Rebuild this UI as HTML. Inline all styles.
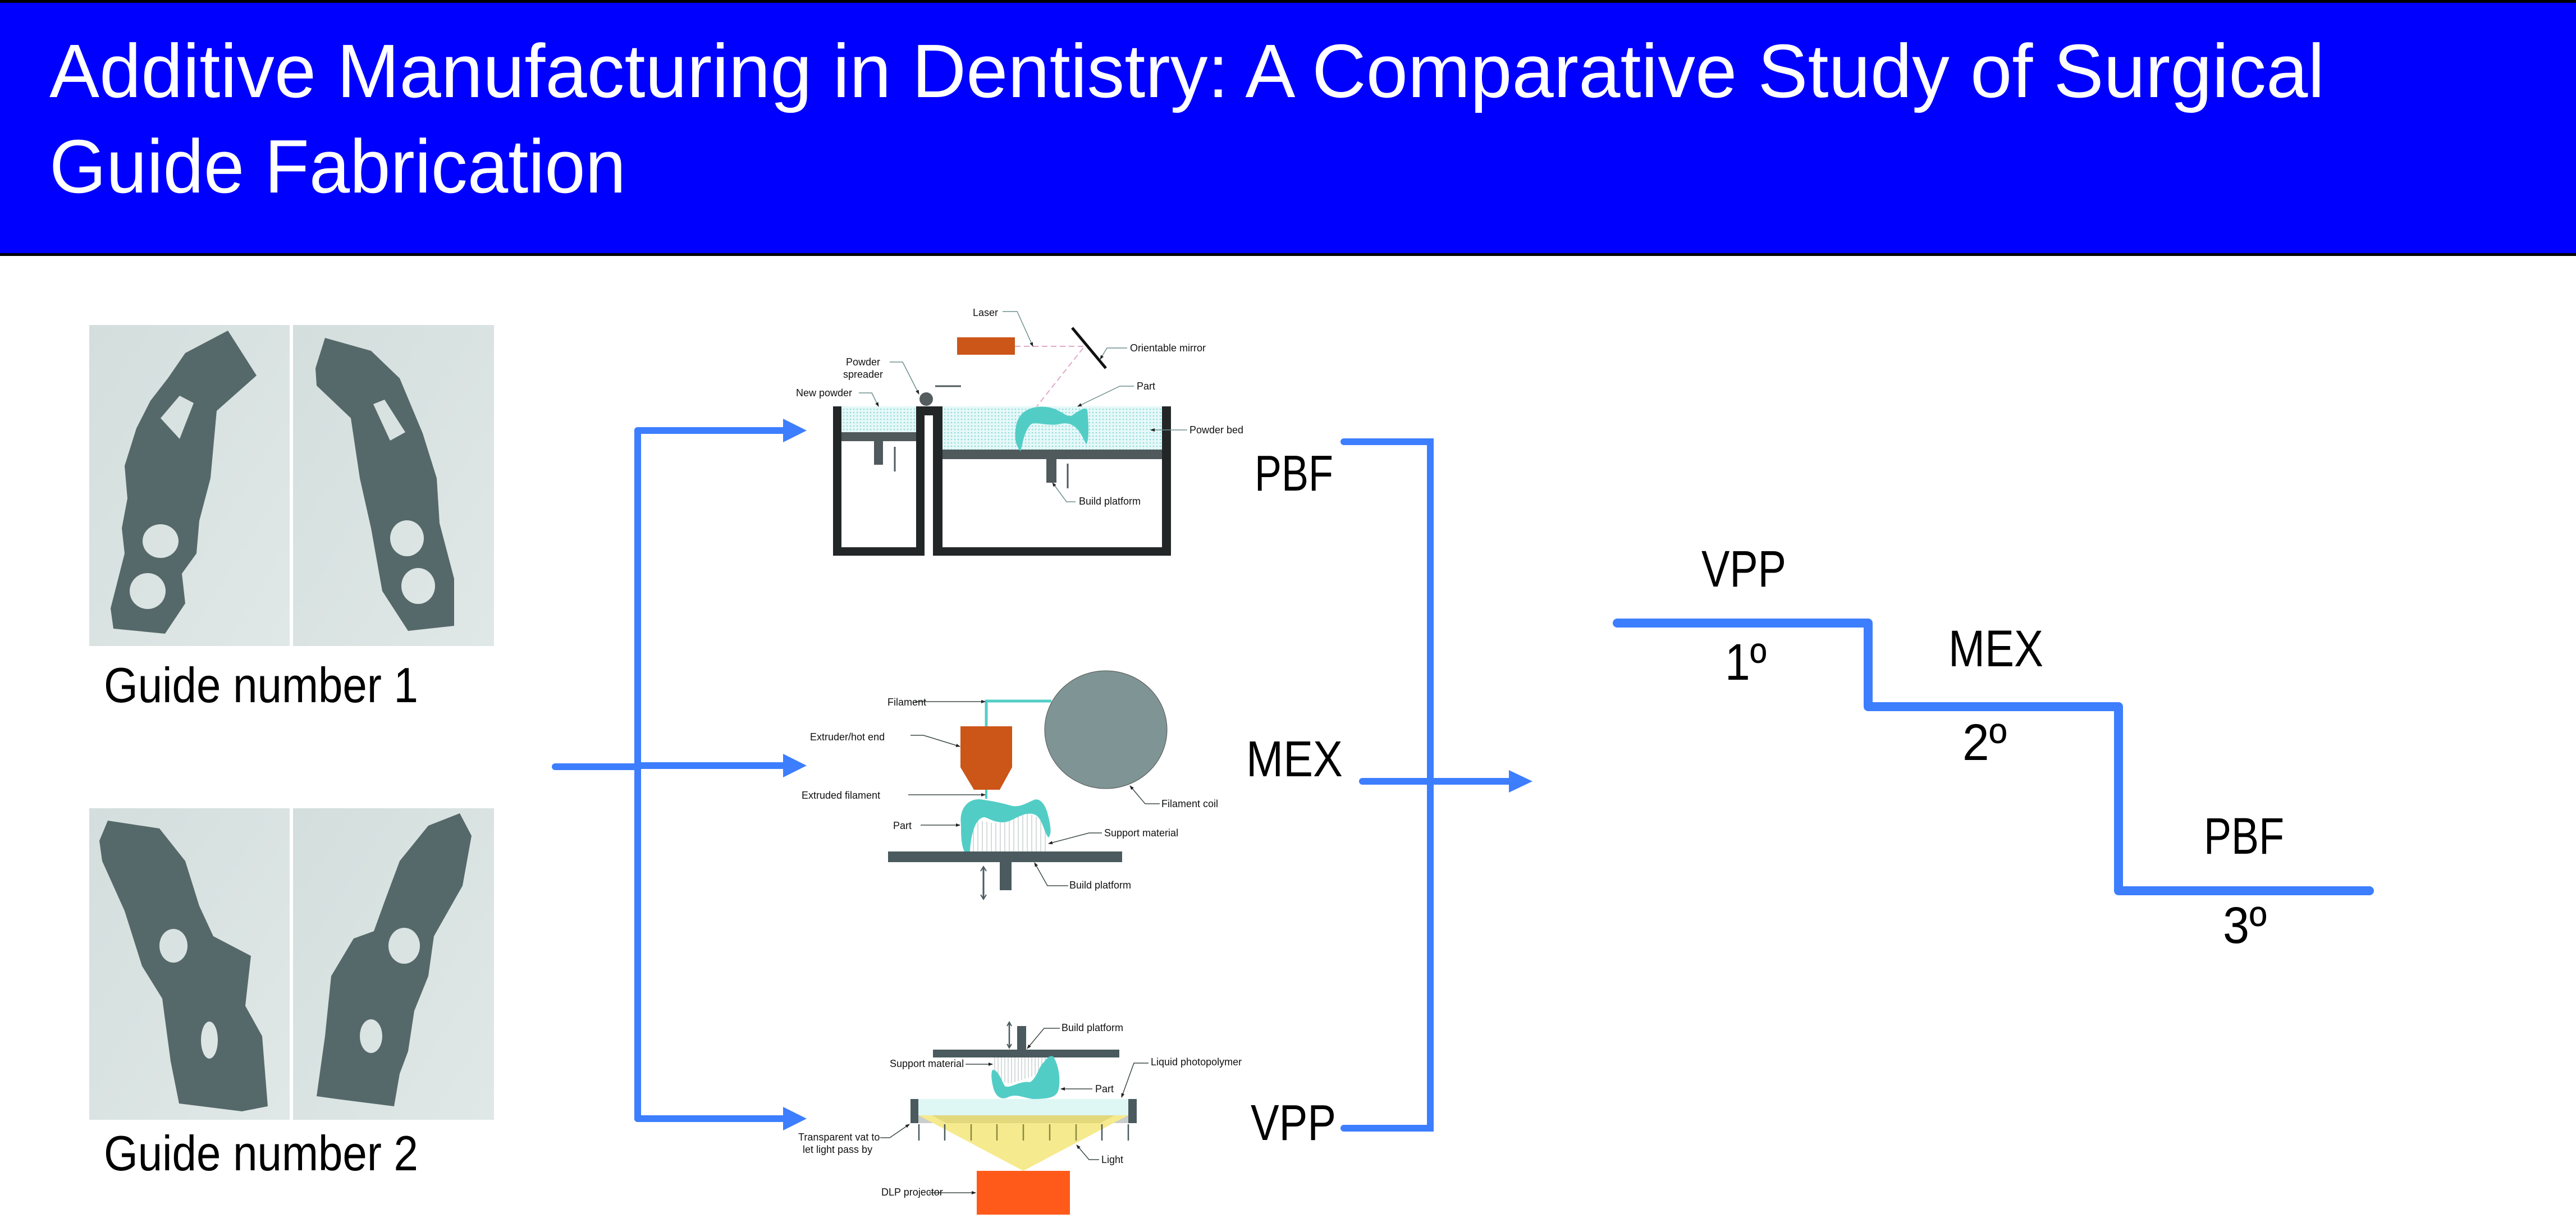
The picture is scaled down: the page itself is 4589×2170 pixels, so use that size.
<!DOCTYPE html>
<html><head><meta charset="utf-8"><style>
html,body{margin:0;padding:0;background:#fff}
svg{display:block}
text{font-family:"Liberation Sans",sans-serif}
</style></head><body>
<svg width="4589" height="2170" viewBox="0 0 4589 2170" xmlns="http://www.w3.org/2000/svg">
<defs>
<pattern id="dots" width="6" height="6" patternUnits="userSpaceOnUse"><rect width="6" height="6" fill="#e6f8f8"/><circle cx="3" cy="3" r="1.3" fill="#8fdcdc"/></pattern>
<linearGradient id="bg" x1="0" y1="0" x2="1" y2="1"><stop offset="0" stop-color="#d3dedd"/><stop offset="1" stop-color="#e0e8e7"/></linearGradient>
<marker id="ah" markerWidth="8" markerHeight="8" refX="7" refY="4" orient="auto" markerUnits="userSpaceOnUse"><path d="M0,1 L8,4 L0,7Z" fill="#222"/></marker>
</defs>
<!-- header -->
<rect x="0" y="0" width="4589" height="456" fill="#000"/>
<rect x="0" y="5" width="4589" height="446" fill="#0000ff"/>
<text x="88" y="173" font-size="135" fill="#fff" textLength="4053" lengthAdjust="spacingAndGlyphs">Additive Manufacturing in Dentistry: A Comparative Study of Surgical</text>
<text x="88" y="343" font-size="135" fill="#fff" textLength="1027" lengthAdjust="spacingAndGlyphs">Guide Fabrication</text>

<!-- guide photos -->
<rect x="159" y="579" width="357" height="572" fill="url(#bg)"/>
<rect x="522" y="579" width="358" height="572" fill="url(#bg)"/>
<rect x="159" y="1440" width="357" height="555" fill="url(#bg)"/>
<rect x="522" y="1440" width="358" height="555" fill="url(#bg)"/>
<g fill="#56696a">
<path fill-rule="evenodd" d="M406,589 L457,669 L386,732 L375,852 L355,928 L350,986 L324,1022 L330,1075 L294,1129 L202,1120 L197,1084 L222,986 L217,941 L227,888 L222,830 L243,763 L268,714 L299,674 L330,629 Z M286,964 m-32,0 a32,30 0 1,0 64,0 a32,30 0 1,0 -64,0 Z M263,1053 m-32,0 a32,32 0 1,0 64,0 a32,32 0 1,0 -64,0 Z M286,745 L320,705 L345,718 L320,782 Z"/>
<path fill-rule="evenodd" d="M579,602 L661,625 L712,674 L753,772 L778,852 L783,932 L809,1031 L809,1115 L727,1124 L681,1053 L661,941 L641,852 L625,745 L564,687 L562,656 Z M725,959 m-30,0 a30,32 0 1,0 60,0 a30,32 0 1,0 -60,0 Z M745,1044 m-30,0 a30,32 0 1,0 60,0 a30,32 0 1,0 -60,0 Z M665,720 L685,712 L722,770 L695,785 Z"/>
<path fill-rule="evenodd" d="M192,1462 L284,1476 L330,1534 L355,1614 L380,1668 L447,1703 L437,1792 L467,1846 L477,1971 L431,1980 L319,1966 L304,1891 L289,1779 L253,1721 L222,1623 L182,1534 L177,1498 Z M309,1685 m-25,0 a25,30 0 1,0 50,0 a25,30 0 1,0 -50,0 Z M373,1853 m-15,0 a15,33 0 1,0 30,0 a15,33 0 1,0 -30,0 Z"/>
<path fill-rule="evenodd" d="M819,1449 L840,1489 L824,1578 L773,1668 L763,1739 L738,1801 L727,1873 L712,1913 L702,1971 L600,1958 L564,1953 L579,1846 L590,1739 L630,1672 L666,1659 L687,1601 L712,1534 L763,1471 Z M720,1685 m-28,0 a28,32 0 1,0 56,0 a28,32 0 1,0 -56,0 Z M661,1846 m-20,0 a20,30 0 1,0 40,0 a20,30 0 1,0 -40,0 Z"/>
</g>
<text x="185" y="1251" font-size="88" fill="#000" textLength="560" lengthAdjust="spacingAndGlyphs">Guide number 1</text>
<text x="185" y="2085" font-size="88" fill="#000" textLength="560" lengthAdjust="spacingAndGlyphs">Guide number 2</text>

<!-- left connectors -->
<g stroke="#3d7eff" stroke-width="12" fill="none" stroke-linecap="round">
<path d="M989,1366 L1136,1366"/>
<path d="M1136,767 L1136,1993"/>
<path d="M1136,767 L1400,767"/>
<path d="M1136,1364 L1400,1364"/>
<path d="M1136,1993 L1400,1993"/>
</g>
<g fill="#3d7eff">
<path d="M1395,746 L1437,767 L1395,788Z"/>
<path d="M1395,1343 L1437,1364 L1395,1385Z"/>
<path d="M1395,1972 L1437,1993 L1395,2014Z"/>
</g>

<!-- PBF diagram -->
<rect x="1499" y="724" width="133" height="46" fill="url(#dots)"/>
<rect x="1679" y="724" width="391" height="77" fill="url(#dots)"/>
<path d="M1484,724 L1499,724 L1499,975 L1632,975 L1632,724 L1679,724 L1679,740 L1647,740 L1647,990 L1484,990Z" fill="#222626"/>
<path d="M1662,740 L1679,740 L1679,975 L2070,975 L2070,724 L2086,724 L2086,990 L1662,990Z" fill="#222626"/>
<rect x="1499" y="770" width="133" height="16" fill="#505a5c"/>
<rect x="1557" y="786" width="16" height="42" fill="#505a5c"/>
<rect x="1679" y="801" width="391" height="17" fill="#505a5c"/>
<rect x="1864" y="818" width="18" height="42" fill="#505a5c"/>
<circle cx="1650" cy="711" r="12" fill="#555c5e"/>
<path d="M1594,796 L1594,840 M1902,826 L1902,870 M1666,688 L1712,688" stroke="#505a5c" stroke-width="3"/>
<rect x="1705" y="601" width="103" height="31" fill="#cc5518"/>
<path d="M1910,584 L1970,656" stroke="#111" stroke-width="5"/>
<path d="M1808,617 L1932,617 L1847,724" stroke="#e0a8c8" stroke-width="2" stroke-dasharray="10,6" fill="none"/>
<path d="M1810,760 C1815,725 1850,722 1870,726 C1890,730 1900,745 1910,740 C1925,730 1932,725 1937,730 C1940,760 1940,785 1935,792 C1925,770 1915,750 1890,755 C1870,760 1850,752 1838,755 C1825,765 1822,790 1818,804 C1810,795 1806,780 1810,760Z" fill="#52cdc6"/>
<g stroke="#6f8f8f" stroke-width="1.5" fill="none" marker-end="url(#ah)">
<path d="M1786,555 L1812,555 L1840,617"/>
<path d="M2008,620 L1972,620 L1960,640"/>
<path d="M1585,645 L1608,645 L1637,702"/>
<path d="M1530,700 L1553,700 L1565,724"/>
<path d="M2020,688 L1995,688 L1920,724"/>
<path d="M2115,766 L2050,766"/>
<path d="M1916,894 L1900,894 L1875,860"/>
</g>
<g font-size="18" fill="#111">
<text x="1733" y="563">Laser</text>
<text x="2013" y="626">Orientable mirror</text>
<text x="1507" y="651">Powder</text>
<text x="1502" y="673">spreader</text>
<text x="1418" y="706">New powder</text>
<text x="2025" y="694">Part</text>
<text x="2119" y="772">Powder bed</text>
<text x="1922" y="899">Build platform</text>
</g>

<!-- MEX diagram -->
<ellipse cx="1970" cy="1300" rx="109" ry="105" fill="#7f9494" stroke="#555" stroke-width="1"/>
<path d="M1873,1249 L1757,1249 L1757,1294" stroke="#52cdc6" stroke-width="5" fill="none"/>
<path d="M1711,1294 L1803,1294 L1803,1367 L1781,1407 L1735,1407 L1711,1367Z" fill="#cc5518"/>
<path d="M1757,1407 L1757,1423" stroke="#52cdc6" stroke-width="4"/>
<g stroke="#c8d0d0" stroke-width="1.5">
<path d="M1718,1460 V1517 M1726,1460 V1517 M1734,1460 V1517 M1742,1462 V1517 M1750,1463 V1517 M1758,1464 V1517 M1766,1466 V1517 M1774,1466 V1517 M1782,1465 V1517 M1790,1462 V1517 M1798,1458 V1517 M1806,1456 V1517 M1814,1454 V1517 M1822,1452 V1517 M1830,1450 V1517 M1838,1452 V1517 M1846,1455 V1517 M1854,1462 V1517 M1862,1468 V1517"/>
</g>
<path d="M1712,1470 C1708,1440 1725,1423 1745,1424 C1760,1426 1775,1428 1800,1435 C1815,1440 1830,1430 1840,1426 C1850,1420 1860,1430 1865,1445 C1872,1470 1874,1485 1868,1492 C1860,1485 1858,1460 1845,1452 C1830,1445 1815,1455 1800,1462 C1780,1470 1765,1460 1755,1456 C1740,1455 1730,1480 1728,1517 L1718,1517 C1712,1505 1712,1485 1712,1470Z" fill="#52cdc6"/>
<rect x="1582" y="1517" width="417" height="19" fill="#4a5a5e"/>
<rect x="1781" y="1536" width="21" height="50" fill="#4a5a5e"/>
<path d="M1752,1546 L1752,1600" stroke="#4a5a5e" stroke-width="3"/>
<path d="M1747,1552 L1752,1544 L1757,1552 M1747,1594 L1752,1602 L1757,1594" stroke="#4a5a5e" stroke-width="2" fill="none"/>
<g stroke="#3e4a4a" stroke-width="1.5" fill="none" marker-end="url(#ah)">
<path d="M1630,1250 L1755,1250"/>
<path d="M1622,1310 L1645,1310 L1710,1330"/>
<path d="M1618,1416 L1755,1416"/>
<path d="M1640,1470 L1710,1470"/>
<path d="M1963,1484 L1940,1484 L1868,1503"/>
<path d="M1903,1578 L1866,1578 L1843,1537"/>
<path d="M2066,1432 L2040,1432 L2013,1400"/>
</g>
<g font-size="18" fill="#111">
<text x="1581" y="1257">Filament</text>
<text x="1443" y="1319">Extruder/hot end</text>
<text x="1428" y="1423">Extruded filament</text>
<text x="1591" y="1477">Part</text>
<text x="1967" y="1490">Support material</text>
<text x="1905" y="1583">Build platform</text>
<text x="2069" y="1438">Filament coil</text>
</g>

<!-- VPP diagram -->
<rect x="1662" y="1870" width="332" height="14" fill="#4a5a5e"/>
<rect x="1812" y="1828" width="16" height="42" fill="#4a5a5e"/>
<path d="M1798,1822 L1798,1866" stroke="#4a5a5e" stroke-width="2.5"/>
<path d="M1794,1828 L1798,1821 L1802,1828 M1794,1860 L1798,1867 L1802,1860" stroke="#4a5a5e" stroke-width="2" fill="none"/>
<g stroke="#c8d0d0" stroke-width="1.5">
<path d="M1772,1884 V1910 M1778,1884 V1915 M1784,1884 V1926 M1790,1884 V1928 M1796,1884 V1930 M1802,1884 V1930 M1808,1884 V1928 M1814,1884 V1926 M1820,1884 V1924 M1826,1884 V1922 M1832,1884 V1920 M1838,1884 V1918 M1844,1884 V1916 M1850,1884 V1912 M1856,1884 V1905 M1862,1884 V1900"/>
</g>
<path d="M1768,1906 C1778,1905 1784,1925 1790,1935 C1800,1940 1815,1925 1835,1928 C1848,1920 1850,1900 1860,1892 C1865,1885 1870,1880 1876,1882 C1885,1895 1890,1920 1886,1940 C1883,1955 1870,1958 1840,1958 C1820,1955 1810,1948 1795,1955 C1785,1960 1775,1955 1770,1940 C1766,1925 1765,1912 1768,1906Z" fill="#52cdc6"/>
<rect x="1636" y="1958" width="374" height="29" fill="#def6f4"/>
<rect x="1636" y="1987" width="374" height="14" fill="#c9cdcb"/>
<path d="M1636,1987 L2010,1987 L1823,2086Z" fill="#f6ea8e"/>
<path d="M1660,1987 L1986,1987 L1960,2001 L1686,2001Z" fill="#d8cc70" opacity="0.6"/>
<rect x="1622" y="1958" width="14" height="43" fill="#4a5a5e"/>
<rect x="2010" y="1958" width="15" height="43" fill="#4a5a5e"/>
<g stroke="#4a5a5e" stroke-width="2.5">
<path d="M1637,2003 V2032 M1683,2003 V2032 M1963,2003 V2032 M2010,2003 V2032"/>
</g>
<g stroke="#8a8a40" stroke-width="2.5">
<path d="M1730,2003 V2032 M1776,2003 V2032 M1823,2003 V2032 M1870,2003 V2032 M1917,2003 V2032"/>
</g>
<rect x="1740" y="2086" width="166" height="78" fill="#ff5a1a"/>
<g stroke="#3e4a4a" stroke-width="1.5" fill="none" marker-end="url(#ah)">
<path d="M1888,1832 L1860,1832 L1830,1868"/>
<path d="M1720,1896 L1768,1896"/>
<path d="M1946,1940 L1890,1940"/>
<path d="M2046,1894 L2020,1894 L1998,1955"/>
<path d="M1568,2027 L1585,2027 L1620,2003"/>
<path d="M1958,2066 L1940,2066 L1918,2040"/>
<path d="M1655,2125 L1738,2125"/>
</g>
<g font-size="18" fill="#111">
<text x="1891" y="1837">Build platform</text>
<text x="1585" y="1901">Support material</text>
<text x="1951" y="1946">Part</text>
<text x="2050" y="1898">Liquid photopolymer</text>
<text x="1422" y="2032">Transparent vat to</text>
<text x="1430" y="2054">let light pass by</text>
<text x="1962" y="2072">Light</text>
<text x="1570" y="2130">DLP projector</text>
</g>

<!-- right bracket -->
<g stroke="#3d7eff" stroke-width="12" fill="none" stroke-linecap="round">
<path d="M2394,787 L2548,787 L2548,2010 L2394,2010"/>
<path d="M2427,1392 L2695,1392"/>
</g>
<path d="M2688,1372 L2730,1392 L2688,1412Z" fill="#3d7eff"/>
<g font-size="90" fill="#000">
<text x="2235" y="874" textLength="140" lengthAdjust="spacingAndGlyphs">PBF</text>
<text x="2220" y="1383" textLength="172" lengthAdjust="spacingAndGlyphs">MEX</text>
<text x="2228" y="2031" textLength="152" lengthAdjust="spacingAndGlyphs">VPP</text>
</g>

<!-- steps -->
<path d="M2881,1110 L3328,1110 L3328,1259 L3774,1259 L3774,1587 L4221,1587" stroke="#3d7eff" stroke-width="16" fill="none" stroke-linecap="round" stroke-linejoin="round"/>
<g font-size="92" fill="#000">
<text x="3031" y="1045" textLength="151" lengthAdjust="spacingAndGlyphs">VPP</text>
<text x="3073" y="1211" textLength="74" lengthAdjust="spacingAndGlyphs">1º</text>
<text x="3471" y="1187" textLength="169" lengthAdjust="spacingAndGlyphs">MEX</text>
<text x="3496" y="1354" textLength="79" lengthAdjust="spacingAndGlyphs">2º</text>
<text x="3926" y="1521" textLength="143" lengthAdjust="spacingAndGlyphs">PBF</text>
<text x="3960" y="1680" textLength="78" lengthAdjust="spacingAndGlyphs">3º</text>
</g>
</svg>
</body></html>
